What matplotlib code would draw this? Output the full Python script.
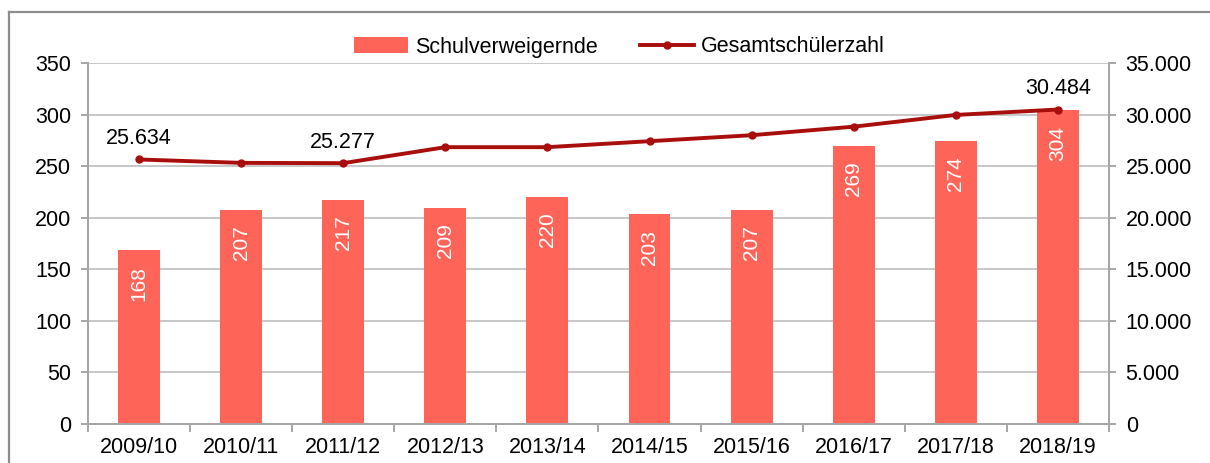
import numpy as np
import matplotlib.pyplot as plt
from matplotlib.lines import Line2D
from matplotlib.ticker import FuncFormatter

plt.rcParams['font.family'] = ['Liberation Sans', 'DejaVu Sans']

# data
jahre = ['2009/10', '2010/11', '2011/12', '2012/13', '2013/14',
         '2014/15', '2015/16', '2016/17', '2017/18', '2018/19']
schulverweigernde = [168, 207, 217, 209, 220, 203, 207, 269, 274, 304]
gesamtschueler = [25634, 25305, 25277, 26830, 26830, 27410, 27990, 28820, 29960, 30484]
# which line points carry a value label
line_labels = {0: '25.634', 2: '25.277', 9: '30.484'}

bar_color = '#FF6459'
line_color = '#A80E0B'
axis_gray = '#A6A6A6'
grid_gray = '#BEBEBE'

fig = plt.figure(figsize=(12.1, 4.63), dpi=100)
ax = fig.add_axes([0.0727, 0.0853, 0.9165 - 0.0727, 0.8639 - 0.0853])
ax2 = ax.twinx()

x = np.arange(len(jahre))
bars = ax.bar(x, schulverweigernde, width=0.41, color=bar_color, zorder=2,
              label='Schulverweigernde')
for xi, v in zip(x, schulverweigernde):
    ax.annotate(str(v), (xi, v), xytext=(0, -11), textcoords='offset points',
                rotation=90, ha='center', va='top', color='white', fontsize=15,
                zorder=3)

ax2.plot(x, gesamtschueler, color=line_color, lw=2.8, marker='o', ms=5,
         label='Gesamtschülerzahl', zorder=4)
for i, txt in line_labels.items():
    ax2.annotate(txt, (x[i], gesamtschueler[i]), xytext=(0, 15),
                 textcoords='offset points', ha='center', va='center', fontsize=15.5)

ax.set_xlim(-0.5, len(jahre) - 0.5)
ax.set_ylim(0, 350)
ax.set_yticks(np.arange(0, 351, 50))
ax2.set_ylim(0, 35000)
ax2.set_yticks(np.arange(0, 35001, 5000))
ax2.yaxis.set_major_formatter(FuncFormatter(lambda v, p: f'{int(v):,}'.replace(',', '.')))

ax.set_xticks(x)
ax.set_xticklabels(jahre)
ax.set_xticks(np.arange(-0.5, len(jahre)), minor=True)
ax.tick_params(axis='x', which='major', length=0, pad=10, labelsize=15.5)
ax.tick_params(axis='x', which='minor', length=6, width=1.4, color=axis_gray)
ax.tick_params(axis='y', length=5, width=1.4, color=axis_gray, pad=7, labelsize=15.5)
ax2.tick_params(axis='y', length=5, width=1.4, color=axis_gray, pad=7, labelsize=15.5)

ax.yaxis.grid(True, color=grid_gray, lw=1.2, zorder=0)
ax.set_axisbelow(True)

for a in (ax, ax2):
    a.spines['top'].set_visible(False)
    for s in ('left', 'right', 'bottom'):
        a.spines[s].set_color(axis_gray)
        a.spines[s].set_linewidth(1.4)

handles = [bars, ax2.get_lines()[0]]
fig.legend(handles, [h.get_label() for h in handles], loc='center',
           bbox_to_anchor=(0.512, 1 - 47 / 463), ncol=2, frameon=False,
           fontsize=15.5, handlelength=2.5, handleheight=0.7, columnspacing=2.0,
           handletextpad=0.3)

# outer frame (top and left visible in the crop)
fig.add_artist(Line2D([9 / 1210, 1], [1 - 12 / 463, 1 - 12 / 463],
                      transform=fig.transFigure, color='#8C8C8C', lw=1.6))
fig.add_artist(Line2D([9 / 1210, 9 / 1210], [0, 1 - 12 / 463],
                      transform=fig.transFigure, color='#8C8C8C', lw=1.6))

fig.savefig('out.png', dpi=100)
